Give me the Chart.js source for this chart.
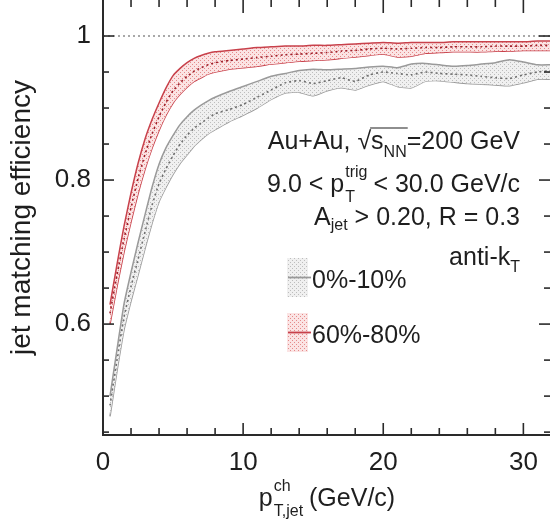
<!DOCTYPE html>
<html><head><meta charset="utf-8">
<script src="https://cdn.jsdelivr.net/npm/chart.js@4/dist/chart.umd.min.js"></script>
<style>html,body{margin:0;padding:0;background:#fff}#w{width:550px;height:529px;position:relative}</style>
</head><body><div id="w"><canvas id="c"></canvas></div>
<script>
// ---------------- data ----------------
const pT = [0.5,1,1.5,2,2.5,3,3.5,4,4.5,5,5.5,6,6.5,7,7.5,8,9,10,11,12,13,14,15,16,17,18,19,20,21,22,23,24,25,26,27,28,29,30,31,32];

const mid_0_10 = [0.487,0.55,0.61,0.652,0.69,0.728,0.765,0.795,0.816,0.834,0.85,0.862,0.872,0.879,0.886,0.892,0.898,0.905,0.915,0.925,0.935,0.938,0.934,0.938,0.942,0.937,0.946,0.95,0.948,0.946,0.95,0.948,0.947,0.946,0.944,0.942,0.941,0.946,0.95,0.952];
const hi_0_10  = [0.50,0.565,0.628,0.672,0.713,0.752,0.79,0.822,0.845,0.862,0.877,0.888,0.897,0.904,0.910,0.915,0.923,0.93,0.937,0.944,0.948,0.952,0.954,0.953,0.954,0.955,0.957,0.958,0.956,0.961,0.962,0.96,0.958,0.959,0.961,0.963,0.967,0.964,0.96,0.96];
const lo_0_10  = [0.472,0.535,0.592,0.632,0.668,0.705,0.74,0.77,0.79,0.808,0.823,0.835,0.847,0.856,0.864,0.87,0.881,0.89,0.90,0.912,0.921,0.922,0.917,0.924,0.928,0.925,0.932,0.937,0.93,0.928,0.937,0.938,0.936,0.934,0.933,0.932,0.931,0.935,0.94,0.94];

const mid_60_80 = [0.615,0.668,0.718,0.762,0.802,0.836,0.864,0.888,0.908,0.924,0.935,0.944,0.951,0.956,0.960,0.963,0.966,0.968,0.970,0.972,0.974,0.975,0.976,0.977,0.979,0.980,0.982,0.983,0.982,0.983,0.984,0.984,0.985,0.985,0.985,0.986,0.986,0.986,0.987,0.987];
const hi_60_80  = [0.627,0.683,0.736,0.782,0.823,0.857,0.884,0.907,0.928,0.945,0.955,0.963,0.969,0.973,0.976,0.978,0.980,0.982,0.984,0.985,0.986,0.986,0.987,0.987,0.988,0.989,0.990,0.991,0.990,0.991,0.991,0.991,0.992,0.992,0.992,0.992,0.992,0.992,0.993,0.993];
const lo_60_80  = [0.60,0.652,0.70,0.742,0.781,0.815,0.844,0.869,0.89,0.907,0.919,0.929,0.937,0.942,0.947,0.95,0.954,0.956,0.958,0.961,0.963,0.965,0.966,0.967,0.969,0.971,0.973,0.975,0.971,0.972,0.976,0.977,0.978,0.978,0.978,0.979,0.979,0.980,0.980,0.980];

const refLineX = [0, 32];
const refLineY = [1, 1];

const seriesNames = ['0%-10%', '60%-80%'];
const xMajorTicks = [0, 10, 20, 30];
const xMinorTicks = [2,4,6,8,12,14,16,18,22,24,26,28];
const yMajorTicks = [0.6, 0.8, 1];
const yMinorTicks = [0.45,0.5,0.55,0.65,0.7,0.75,0.85,0.9,0.95];
const annotLines = [
  [{t:'Au+Au, '},{t:'\u221A'},{t:'s',ol:1},{t:'NN',sm:1,dy:8,ol:1},{t:'=200 GeV'}],
  [{t:'9.0 < p'},{st:{sup:'trig',sub:'T'}},{t:' < 30.0 GeV/c'}],
  [{t:'A'},{t:'jet',sm:1,dy:5},{t:' > 0.20, R = 0.3'}],
  [{t:'anti-k'},{t:'T',sm:1,dy:7}]
];
const xTitle = [{t:'p'},{st:{sup:'ch',sub:'T,jet'}},{t:' (GeV/c)'}];
const yTitle = 'jet matching efficiency';

// ---------------- styles ----------------
const FONT = '"Liberation Sans", Arial, Helvetica, sans-serif';
const BIG = 25, SMALL = 16, TICK = 26;
const canvas = document.getElementById('c');
const mainCtx = canvas.getContext('2d');
function pattern(bg, dot) {
  const c = document.createElement('canvas'); c.width = 4; c.height = 4;
  const g = c.getContext('2d');
  g.fillStyle = bg; g.fillRect(0,0,4,4);
  g.fillStyle = dot; g.fillRect(0,0,1,1); g.fillRect(2,2,1,1);
  return mainCtx.createPattern(c, 'repeat');
}
const grayFill = pattern('#f0f0f0', '#bdbdbd');
const redFill = pattern('#fbe4e4', '#e58a8a');
const grayEdge = '#9a9a9a', redEdge = '#c8414b';
const grayMid = '#6f6f6f', redMid = '#9e1f2a';

function pts(ys) { return pT.map((x,i)=>({x, y: ys[i]})); }

// ---------------- rich text ----------------
function segWidth(ctx, s) {
  if (s.st) {
    ctx.font = SMALL + 'px ' + FONT;
    return Math.max(ctx.measureText(s.st.sup).width, ctx.measureText(s.st.sub).width);
  }
  ctx.font = (s.sm ? SMALL : BIG) + 'px ' + FONT;
  return ctx.measureText(s.t).width;
}
function drawRich(ctx, segs, x, y, align) {
  const ws = segs.map(s => segWidth(ctx, s));
  const total = ws.reduce((a,b)=>a+b, 0);
  let cx = align === 'right' ? x - total : (align === 'center' ? x - total/2 : x);
  ctx.textAlign = 'left'; ctx.textBaseline = 'alphabetic'; ctx.fillStyle = '#1e1e1e';
  let olStart = null, olEnd = null;
  segs.forEach((s, i) => {
    if (s.st) {
      ctx.font = SMALL + 'px ' + FONT;
      ctx.fillText(s.st.sup, cx + 1, y - 15);
      ctx.fillText(s.st.sub, cx + 1, y + 10);
    } else {
      ctx.font = (s.sm ? SMALL : BIG) + 'px ' + FONT;
      ctx.fillText(s.t, cx, y + (s.dy || 0));
      if (s.ol) { if (olStart === null) olStart = cx; olEnd = cx + ws[i]; }
    }
    cx += ws[i];
  });
  if (olStart !== null) {
    ctx.strokeStyle = '#1e1e1e'; ctx.lineWidth = 1.2;
    ctx.beginPath(); ctx.moveTo(olStart - 1, y - 21); ctx.lineTo(olEnd + 1, y - 21); ctx.stroke();
  }
}

// ---------------- frame / ticks / labels plugin ----------------
const framePlugin = {
  id: 'frame',
  afterDraw(chart) {
    const {ctx, chartArea: a, scales: {x, y}} = chart;
    ctx.save();
    ctx.strokeStyle = '#2a2a2a';
    ctx.lineWidth = 1.6;
    const tick = (x0, y0, x1, y1) => { ctx.beginPath(); ctx.moveTo(x0, y0); ctx.lineTo(x1, y1); ctx.stroke(); };
    xMajorTicks.forEach(v => { const px = x.getPixelForValue(v); tick(px, a.bottom, px, a.bottom - 12); tick(px, a.top, px, a.top + 13); });
    xMinorTicks.forEach(v => { const px = x.getPixelForValue(v); tick(px, a.bottom, px, a.bottom - 7); tick(px, a.top, px, a.top + 7); });
    yMajorTicks.forEach(v => { const py = y.getPixelForValue(v); tick(a.left, py, a.left + 11, py); tick(a.right, py, a.right - 11, py); });
    yMinorTicks.forEach(v => { const py = y.getPixelForValue(v); tick(a.left, py, a.left + 6, py); tick(a.right, py, a.right - 6, py); });
    ctx.lineWidth = 2;
    tick(a.left, a.top, a.left, a.bottom + 1);
    tick(a.left - 1, a.bottom, a.right, a.bottom);

    // annotation text
    const rx = 520;
    const baselines = [149, 192, 225, 265];
    annotLines.forEach((l, i) => drawRich(ctx, l, rx, baselines[i], 'right'));

    // legend
    const fills = [grayFill, redFill], edges = [grayEdge, redEdge];
    const boxTop = [258, 313];
    seriesNames.forEach((n, i) => {
      ctx.fillStyle = fills[i];
      ctx.fillRect(287, boxTop[i], 21, 39);
      ctx.strokeStyle = edges[i]; ctx.lineWidth = 1.8;
      tick(288, boxTop[i] + 19.5, 311, boxTop[i] + 19.5);
      ctx.font = BIG + 'px ' + FONT; ctx.fillStyle = '#1e1e1e';
      ctx.textAlign = 'left'; ctx.textBaseline = 'alphabetic';
      ctx.fillText(n, 312, boxTop[i] + 30);
    });

    // x title
    drawRich(ctx, xTitle, 327, 506, 'center');
    ctx.restore();
  }
};

// ---------------- chart ----------------
const lineBase = { pointRadius: 0, tension: 0.15, fill: false };
new Chart(canvas, {
  type: 'line',
  data: {
    datasets: [
      { ...lineBase, order: 6, label: seriesNames[0] + ' low', data: pts(lo_0_10), borderColor: grayEdge, borderWidth: 1.5 },
      { ...lineBase, order: 5, label: seriesNames[0] + ' high', data: pts(hi_0_10), borderColor: grayEdge, borderWidth: 1.5, fill: '-1', backgroundColor: grayFill },
      { ...lineBase, order: 4, label: seriesNames[0], data: pts(mid_0_10), borderColor: grayMid, borderWidth: 1.6, borderDash: [2, 3] },
      { ...lineBase, order: 3, label: seriesNames[1] + ' low', data: pts(lo_60_80), borderColor: redEdge, borderWidth: 1.5 },
      { ...lineBase, order: 2, label: seriesNames[1] + ' high', data: pts(hi_60_80), borderColor: redEdge, borderWidth: 1.5, fill: '-1', backgroundColor: redFill },
      { ...lineBase, order: 1, label: seriesNames[1], data: pts(mid_60_80), borderColor: redMid, borderWidth: 1.6, borderDash: [2, 3] },
      { ...lineBase, order: 0, label: 'unity', data: refLineX.map((x,i)=>({x, y: refLineY[i]})), borderColor: '#555', borderWidth: 1.2, borderDash: [2, 3], tension: 0 }
    ]
  },
  options: {
    responsive: true, maintainAspectRatio: false, animation: false,
    layout: { padding: 0 },
    plugins: { legend: { display: false }, tooltip: { enabled: false } },
    scales: {
      x: {
        type: 'linear', min: 0, max: 31.9,
        grid: { display: false, drawTicks: false }, border: { display: false },
        afterBuildTicks: s => { s.ticks = xMajorTicks.map(v => ({ value: v })); },
        afterFit: s => { s.height = 94; s.paddingLeft = 0; s.paddingRight = 0; },
        ticks: { autoSkip: false, maxRotation: 0, padding: 12, color: '#1e1e1e', font: { family: FONT, size: TICK }, callback: v => String(v) }
      },
      y: {
        type: 'linear', min: 0.446, max: 1.05,
        grid: { display: false, drawTicks: false }, border: { display: false },
        afterBuildTicks: s => { s.ticks = yMajorTicks.map(v => ({ value: v })); },
        afterFit: s => { s.width = 103; s.paddingTop = 0; s.paddingBottom = 0; },
        ticks: { autoSkip: false, padding: 12, color: '#1e1e1e', font: { family: FONT, size: TICK }, callback: v => String(v) },
        title: { display: true, text: yTitle, color: '#1e1e1e', font: { family: FONT, size: 28 }, padding: { top: 5, bottom: 0 } }
      }
    }
  },
  plugins: [framePlugin]
});
</script>
</body></html>
